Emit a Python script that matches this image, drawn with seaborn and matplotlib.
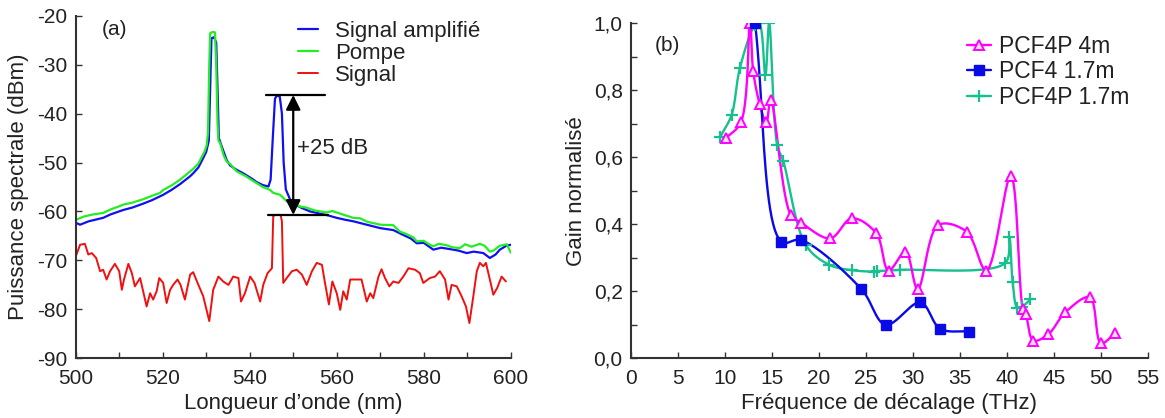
import numpy as np
import matplotlib
matplotlib.use("Agg")
import matplotlib.pyplot as plt
from matplotlib.ticker import MultipleLocator, FuncFormatter
import seaborn as sns

# ---------------- data: panel (a) ----------------
pump_lambda = [500.0, 502.0, 504.0, 506.3, 508.0, 509.8, 510.9, 513.0, 515.5, 517.5, 519.4, 520.1,
               522.0, 524.0, 526.3, 527.0, 528.2, 529.0, 529.6, 530.1, 530.4, 530.7, 530.9, 531.5,
               532.0, 532.3, 532.6, 532.8, 533.2, 534.0, 534.7, 535.5, 537.0, 538.5, 539.3, 540.5,
               541.6, 543.0, 544.7, 545.4, 547.0, 548.5, 550.0, 551.6, 553.0, 555.0, 557.7, 559.0,
               561.0, 563.8, 565.4, 567.0, 570.0, 573.0, 574.5, 576.0, 577.6, 578.4, 580.0, 581.4,
               582.2, 583.5, 585.3, 586.5, 588.3, 589.5, 591.0, 592.9, 594.0, 595.2, 596.0, 597.5,
               599.1, 600.0]
pump_db = [-61.7, -61.0, -60.6, -60.3, -59.6, -59.0, -58.6, -58.2, -57.5, -56.8, -56.2, -55.6,
           -54.7, -53.5, -51.8, -51.3, -50.2, -48.8, -47.8, -46.5, -44.0, -30.0, -23.6, -23.3,
           -23.4, -30.0, -42.0, -45.5, -46.0, -48.5, -49.8, -50.3, -51.8, -52.5, -52.9, -53.6,
           -54.2, -55.0, -55.6, -56.2, -56.6, -57.9, -58.3, -59.0, -59.2, -59.8, -60.2, -59.9,
           -60.5, -61.3, -61.4, -62.1, -62.7, -62.8, -64.1, -64.6, -65.3, -66.1, -66.0, -66.8,
           -67.1, -66.6, -66.9, -67.3, -67.5, -66.7, -67.2, -66.6, -67.0, -68.2, -68.0, -67.0,
           -66.7, -68.4]

amp_lambda = [500.0, 501.0, 503.0, 506.3, 508.0, 510.9, 513.0, 515.5, 517.5, 520.1, 522.0, 524.0,
              526.3, 527.0, 528.2, 529.3, 530.0, 530.6, 530.9, 531.2, 531.8, 532.3, 532.6, 532.9,
              533.4, 534.7, 535.5, 537.0, 538.5, 540.5, 541.6, 543.0, 544.3, 544.8, 545.3, 545.8,
              546.2, 546.9, 547.4, 547.8, 548.3, 549.3, 550.5, 552.0, 553.9, 556.0, 558.0, 560.0,
              562.0, 563.8, 566.0, 570.0, 573.0, 575.3, 577.0, 578.4, 580.0, 582.2, 584.0, 586.8,
              588.0, 589.9, 591.5, 593.7, 595.2, 596.5, 597.5, 599.0, 600.0]
amp_db = [-62.3, -62.7, -62.0, -61.3, -60.6, -59.7, -59.2, -58.4, -57.7, -56.6, -55.6, -54.4,
          -52.8, -52.2, -51.0, -49.1, -47.8, -45.5, -35.0, -24.6, -24.4, -25.5, -35.0, -45.0,
          -46.3, -49.5, -50.6, -51.5, -52.2, -53.3, -54.0, -54.6, -54.9, -53.5, -45.0, -37.0,
          -36.3, -36.5, -40.0, -50.0, -55.5, -57.6, -58.6, -59.3, -60.0, -60.4, -60.8, -61.3,
          -61.7, -62.0, -62.5, -63.4, -63.8, -64.8, -65.5, -66.5, -66.4, -67.8, -67.4, -67.8,
          -68.0, -68.5, -68.2, -68.5, -69.5, -68.8, -67.8, -67.0, -66.8]

sig_lambda = [500.0, 501.0, 502.1, 502.9, 503.7, 504.7, 505.6, 506.3, 507.1, 507.9, 509.0, 510.0,
              510.6, 511.1, 512.1, 512.9, 513.6, 514.8, 515.5, 516.3, 517.1, 517.8, 518.6, 519.2,
              520.1, 520.9, 521.7, 522.4, 523.4, 524.1, 525.1, 526.3, 527.0, 528.2, 529.3, 530.7,
              531.6, 532.8, 533.9, 535.1, 536.2, 537.4, 538.0, 538.9, 540.1, 541.1, 542.4, 543.1,
              544.1, 545.1, 545.4, 545.8, 547.1, 547.4, 547.7, 548.5, 549.7, 550.8, 552.0, 553.1,
              554.3, 555.4, 556.6, 557.3, 558.2, 559.0, 560.0, 560.8, 561.5, 562.3, 563.1, 564.2,
              565.7, 566.9, 567.7, 568.4, 569.6, 570.3, 571.1, 572.1, 573.0, 574.2, 575.3, 576.5,
              578.0, 579.1, 579.9, 581.4, 582.6, 583.7, 584.9, 585.7, 586.4, 587.6, 588.7, 589.7,
              590.5, 591.4, 592.2, 592.9, 593.7, 594.3, 595.2, 596.0, 596.9, 597.9, 598.9]
sig_db = [-69.2, -66.8, -66.6, -68.8, -68.5, -69.5, -72.2, -71.9, -73.9, -72.2, -70.7, -72.2,
          -76.0, -73.9, -70.7, -72.6, -75.3, -73.6, -76.3, -79.4, -76.7, -78.0, -76.3, -73.6,
          -74.6, -78.7, -76.0, -75.0, -73.9, -75.0, -78.0, -72.9, -72.4, -75.0, -77.3, -82.4,
          -76.0, -73.3, -74.3, -75.0, -73.3, -73.6, -78.4, -76.7, -73.3, -74.6, -78.4, -75.0,
          -72.6, -71.6, -61.0, -60.7, -60.7, -62.0, -74.6, -73.6, -72.2, -71.9, -72.9, -75.0,
          -72.2, -70.5, -70.9, -74.6, -79.0, -74.3, -76.7, -80.1, -76.3, -78.0, -73.9, -73.9,
          -73.9, -78.4, -76.7, -77.7, -73.3, -71.8, -73.6, -75.3, -74.3, -74.6, -73.3, -71.6,
          -71.9, -72.6, -74.6, -73.6, -73.3, -72.2, -73.9, -78.0, -75.0, -75.3, -77.3, -79.4,
          -82.8, -77.3, -72.2, -70.5, -71.2, -70.5, -73.9, -77.0, -75.6, -73.3, -74.3]

amp_peak_db = -36.2      # top of amplified signal
sig_peak_db = -60.7      # top of input signal
gain_label = "+25 dB"

# ---------------- data: panel (b) ----------------
m4_f = [10.1, 11.7, 12.66, 13.0, 13.7, 14.4, 14.86, 17.0, 18.1, 21.2, 23.5, 26.1, 27.4, 29.2,
        30.5, 32.7, 35.7, 37.8, 40.4, 41.7, 42.0, 42.8, 44.4, 46.2, 48.8, 50.0, 51.5]
m4_g = [0.657, 0.705, 1.0, 0.858, 0.758, 0.704, 0.772, 0.428, 0.405, 0.358, 0.418, 0.373, 0.262,
        0.318, 0.207, 0.398, 0.378, 0.262, 0.544, 0.146, 0.132, 0.053, 0.072, 0.137, 0.182, 0.045,
        0.075]

b17_f = [13.2, 16.0, 18.1, 24.5, 27.1, 30.8, 32.9, 36.0]
b17_g = [1.0, 0.348, 0.353, 0.207, 0.100, 0.167, 0.088, 0.080]

g17_f = [9.5, 10.7, 11.6, 13.2, 13.65, 14.3, 14.7, 15.56, 16.2, 18.6, 21.1, 23.5, 25.9, 26.2,
         28.6, 39.8, 40.25, 40.6, 41.1, 41.6, 42.5]
g17_g = [0.661, 0.726, 0.868, 0.995, 1.0, 0.846, 1.0, 0.636, 0.589, 0.338, 0.279, 0.263, 0.259,
         0.26, 0.264, 0.284, 0.361, 0.229, 0.151, 0.154, 0.176]

labels_b = ["PCF4P 4m", "PCF4 1.7m", "PCF4P 1.7m"]


def smooth_curve(x, y, sx, sy, n=24, alpha=0.5):
    """Centripetal Catmull-Rom curve through the given points (drawing aid)."""
    P = np.column_stack([np.asarray(x, float) * sx, np.asarray(y, float) * sy])
    P = np.vstack([2 * P[0] - P[1], P, 2 * P[-1] - P[-2]])
    segs = []
    for i in range(1, len(P) - 2):
        p0, p1, p2, p3 = P[i - 1], P[i], P[i + 1], P[i + 2]

        def tj(ti, pa, pb):
            return ti + max(np.linalg.norm(pb - pa), 1e-6) ** alpha
        t0 = 0.0
        t1 = tj(t0, p0, p1)
        t2 = tj(t1, p1, p2)
        t3 = tj(t2, p2, p3)
        t = np.linspace(t1, t2, n)[:, None]
        A1 = (t1 - t) / (t1 - t0) * p0 + (t - t0) / (t1 - t0) * p1
        A2 = (t2 - t) / (t2 - t1) * p1 + (t - t1) / (t2 - t1) * p2
        A3 = (t3 - t) / (t3 - t2) * p2 + (t - t2) / (t3 - t2) * p3
        B1 = (t2 - t) / (t2 - t0) * A1 + (t - t0) / (t2 - t0) * A2
        B2 = (t3 - t) / (t3 - t1) * A2 + (t - t1) / (t3 - t1) * A3
        C = (t2 - t) / (t2 - t1) * B1 + (t - t1) / (t2 - t1) * B2
        segs.append(C if i == len(P) - 3 else C[:-1])
    C = np.vstack(segs)
    return C[:, 0] / sx, C[:, 1] / sy


sns.set_style("ticks")
plt.rcParams["font.family"] = ["Liberation Sans", "DejaVu Sans"]
plt.rcParams["axes.unicode_minus"] = False

TXT = "#222222"
FS_TICK = 15
FS_LAB = 16

fig = plt.figure(figsize=(11.65, 4.18), dpi=100)
axa = fig.add_axes([0.065, 0.1428, 0.3734, 0.8196])
axb = fig.add_axes([0.5416, 0.1428, 0.4438, 0.8015])

# ---- panel (a) ----
c_amp, c_pump, c_sig = "#1010f0", "#22ee22", "#f01010"
sns.lineplot(x=amp_lambda, y=amp_db, ax=axa, color=c_amp, lw=1.6, sort=False,
             estimator=None, label="Signal amplifié")
sns.lineplot(x=pump_lambda, y=pump_db, ax=axa, color=c_pump, lw=1.6, sort=False,
             estimator=None, label="Pompe")
sns.lineplot(x=sig_lambda, y=sig_db, ax=axa, color=c_sig, lw=1.4, sort=False,
             estimator=None, label="Signal")
axa.set_xlim(500, 600)
axa.set_ylim(-90, -20)
axa.xaxis.set_major_locator(MultipleLocator(20))
axa.xaxis.set_minor_locator(MultipleLocator(10))
axa.yaxis.set_major_locator(MultipleLocator(10))
axa.set_xlabel("Longueur d\u2019onde (nm)", fontsize=FS_LAB, color=TXT, labelpad=3)
axa.set_ylabel("Puissance spectrale (dBm)", fontsize=FS_LAB, color=TXT, labelpad=6)

# gain annotation
axa.plot([543.8, 557.2], [amp_peak_db, amp_peak_db], color="black", lw=1.6)
axa.plot([544.3, 558.1], [sig_peak_db, sig_peak_db], color="black", lw=1.6)
axa.annotate("", xy=(550.0, amp_peak_db), xytext=(550.0, sig_peak_db),
             arrowprops=dict(arrowstyle="<|-|>", color="black", lw=1.6,
                             mutation_scale=22, shrinkA=0, shrinkB=0))
axa.text(550.8, -47.2, gain_label, fontsize=FS_LAB, color=TXT, ha="left", va="center")
axa.text(509.0, -22.9, "(a)", fontsize=FS_TICK, color=TXT, ha="center", va="center")

lga = axa.legend(loc="upper left", bbox_to_anchor=(0.51, 0.985), frameon=False,
                 fontsize=FS_LAB, handlelength=0.9, handletextpad=0.8, labelspacing=0.05,
                 borderaxespad=0, borderpad=0)
for t in lga.get_texts():
    t.set_color(TXT)

# ---- panel (b) ----
c_m, c_b, c_g = "#ff00ff", "#0a0ae6", "#17c08f"
SX, SY = 9.4, 335.0
for fx, gy, col in [(g17_f, g17_g, c_g), (m4_f, m4_g, c_m), (b17_f, b17_g, c_b)]:
    xs, ys = smooth_curve(fx, gy, SX, SY)
    sns.lineplot(x=xs, y=ys, ax=axb, color=col, lw=1.7, sort=False, estimator=None)

axb.plot(g17_f, g17_g, ls="none", marker="+", ms=9, mew=1.6, color=c_g)
axb.plot(m4_f, m4_g, ls="none", marker="^", ms=6.5, mew=1.4, mec=c_m, mfc="#ffe0ff")
axb.plot(b17_f, b17_g, ls="none", marker="s", ms=7, color=c_b)

h_m, = axb.plot([], [], color=c_m, lw=1.7, marker="^", ms=6.5, mew=1.4, mec=c_m, mfc="#ffe0ff")
h_b, = axb.plot([], [], color=c_b, lw=1.7, marker="s", ms=7)
h_g, = axb.plot([], [], color=c_g, lw=1.7, marker="+", ms=9, mew=1.6)
lgb = axb.legend([h_m, h_b, h_g], labels_b, loc="upper left", bbox_to_anchor=(0.65, 0.965),
                 frameon=False, fontsize=16.5, handlelength=1.05, handletextpad=0.35,
                 labelspacing=0.1, borderaxespad=0, borderpad=0)
for t in lgb.get_texts():
    t.set_color(TXT)

axb.set_xlim(0, 55)
axb.set_ylim(0, 1.0)
axb.xaxis.set_major_locator(MultipleLocator(5))
axb.yaxis.set_major_locator(MultipleLocator(0.2))
axb.yaxis.set_minor_locator(MultipleLocator(0.1))
axb.yaxis.set_major_formatter(FuncFormatter(lambda v, p: f"{v:.1f}".replace(".", ",")))
axb.set_xlabel("Fréquence de décalage (THz)", fontsize=FS_LAB, color=TXT, labelpad=3)
axb.set_ylabel("Gain normalisé", fontsize=FS_LAB, color=TXT, labelpad=5)
axb.text(3.9, 0.935, "(b)", fontsize=FS_TICK, color=TXT, ha="center", va="center")

for ax in (axa, axb):
    sns.despine(ax=ax)
    for s in ("left", "bottom"):
        ax.spines[s].set_linewidth(1.5)
        ax.spines[s].set_color("#333333")
    ax.tick_params(which="both", direction="in", length=4, width=1, colors="#333333",
                   labelsize=FS_TICK, labelcolor=TXT)
    ax.tick_params(axis="y", which="both", pad=6)
    ax.tick_params(axis="x", which="both", pad=8)
    ax.set_facecolor("white")

fig.savefig("out.png", dpi=100, facecolor="white")
